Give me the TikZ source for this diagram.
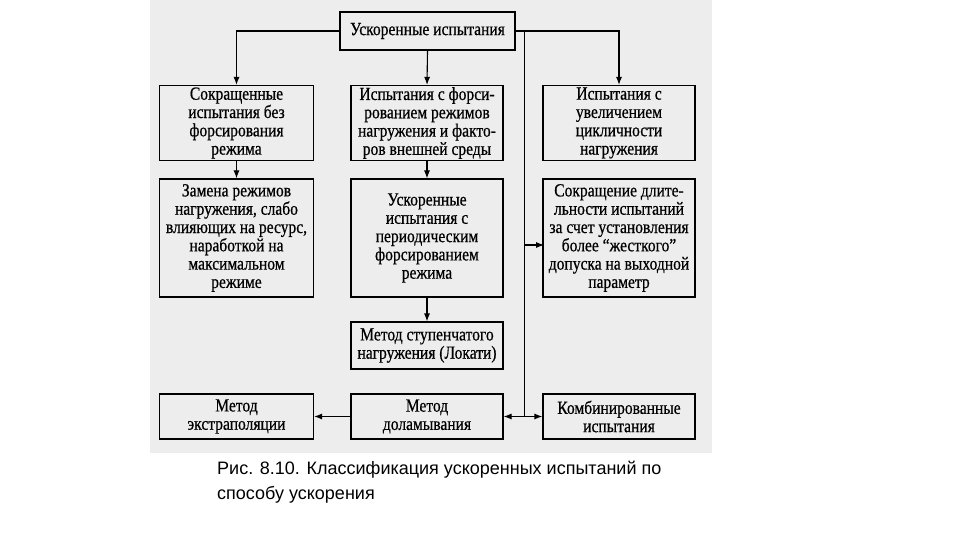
\documentclass[tikz,border=0pt]{standalone}
\usepackage{fontspec}
\setmainfont{Liberation Serif}[FakeStretch=0.84,FakeBold=0.6]
\newfontfamily\capfont{Liberation Sans}
\usetikzlibrary{arrows.meta}

\begin{document}
\begin{tikzpicture}[x=1pt,y=-1pt,
    box/.style={draw,line width=1.1pt,align=center,inner sep=0pt,font=\fontsize{18.5}{18.3}\selectfont},
    arr/.style={line width=1.1pt,-{Latex[length=8pt,width=6pt]}}]
    \useasboundingbox (0,0) rectangle (960,540);
    \fill[black!7] (150,0) rectangle (712,453);
    % top
    \node[box,line width=2.2pt,minimum width=175,minimum height=38] (top) at (427.5,31) {Ускоренные испытания};
    % first row
    \node[box,minimum width=154,minimum height=75] (sokr) at (236.5,123) {Сокращенные\\испытания без\\форсирования\\режима};
    \node[box,minimum width=152,minimum height=75] (fors) at (427,123) {Испытания с форси-\\рованием режимов\\нагружения и факто-\\ров внешней среды};
    \node[box,minimum width=152,minimum height=75] (cikl) at (619,123) {Испытания с\\увеличением\\цикличности\\нагружения};
    % second row
    \node[box,minimum width=154,minimum height=118] (zamena) at (236.5,238) {Замена режимов\\нагружения, слабо\\влияющих на ресурс,\\наработкой на\\максимальном\\режиме};
    \node[box,minimum width=152,minimum height=118] (period) at (427,238) {Ускоренные\\испытания с\\периодическим\\форсированием\\режима};
    \node[box,minimum width=152,minimum height=118] (dopusk) at (619,238) {Сокращение длите-\\льности испытаний\\за счет установления\\более “жесткого”\\допуска на выходной\\параметр};
    % lower rows
    \node[box,minimum width=152,minimum height=47] (lokati) at (427,345.5) {Метод ступенчатого\\нагружения (Локати)};
    \node[box,minimum width=154,minimum height=45] (extr) at (236.5,416.5) {Метод\\экстраполяции};
    \node[box,minimum width=152,minimum height=45] (dolam) at (427,416.5) {Метод\\доламывания};
    \node[box,minimum width=152,minimum height=45] (komb) at (619,416.5) {Комбинированные\\испытания};
    % connectors
    \draw[arr] (top.west) -| (sokr.north);
    \draw[arr] (top.east) -| (cikl.north);
    \draw[arr] (top.south) -- (fors.north);
    \path (top.east) -- ++(8,0) coordinate (bus);
    \draw[line width=1.1pt] (bus) -- (bus |- dolam.east);
    \draw[arr] (bus |- dopusk.west) ++(0,7) -- ++(20,0);
    \draw[arr] (bus |- dolam.east) -- (dolam.east);
    \draw[arr] (bus |- komb.west) -- (komb.west);
    \draw[arr] (sokr) -- (zamena);
    \draw[arr] (fors) -- (period);
    \draw[arr] (period) -- (lokati);
    \draw[arr] (dolam) -- (extr);
    % caption
    \node[anchor=north west,align=left,inner sep=0pt,font=\capfont\fontsize{18}{25}\selectfont] (cap) at (217,461) {Рис. 8.10. Классификация ускоренных испытаний по\\способу ускорения};
\end{tikzpicture}
\end{document}
